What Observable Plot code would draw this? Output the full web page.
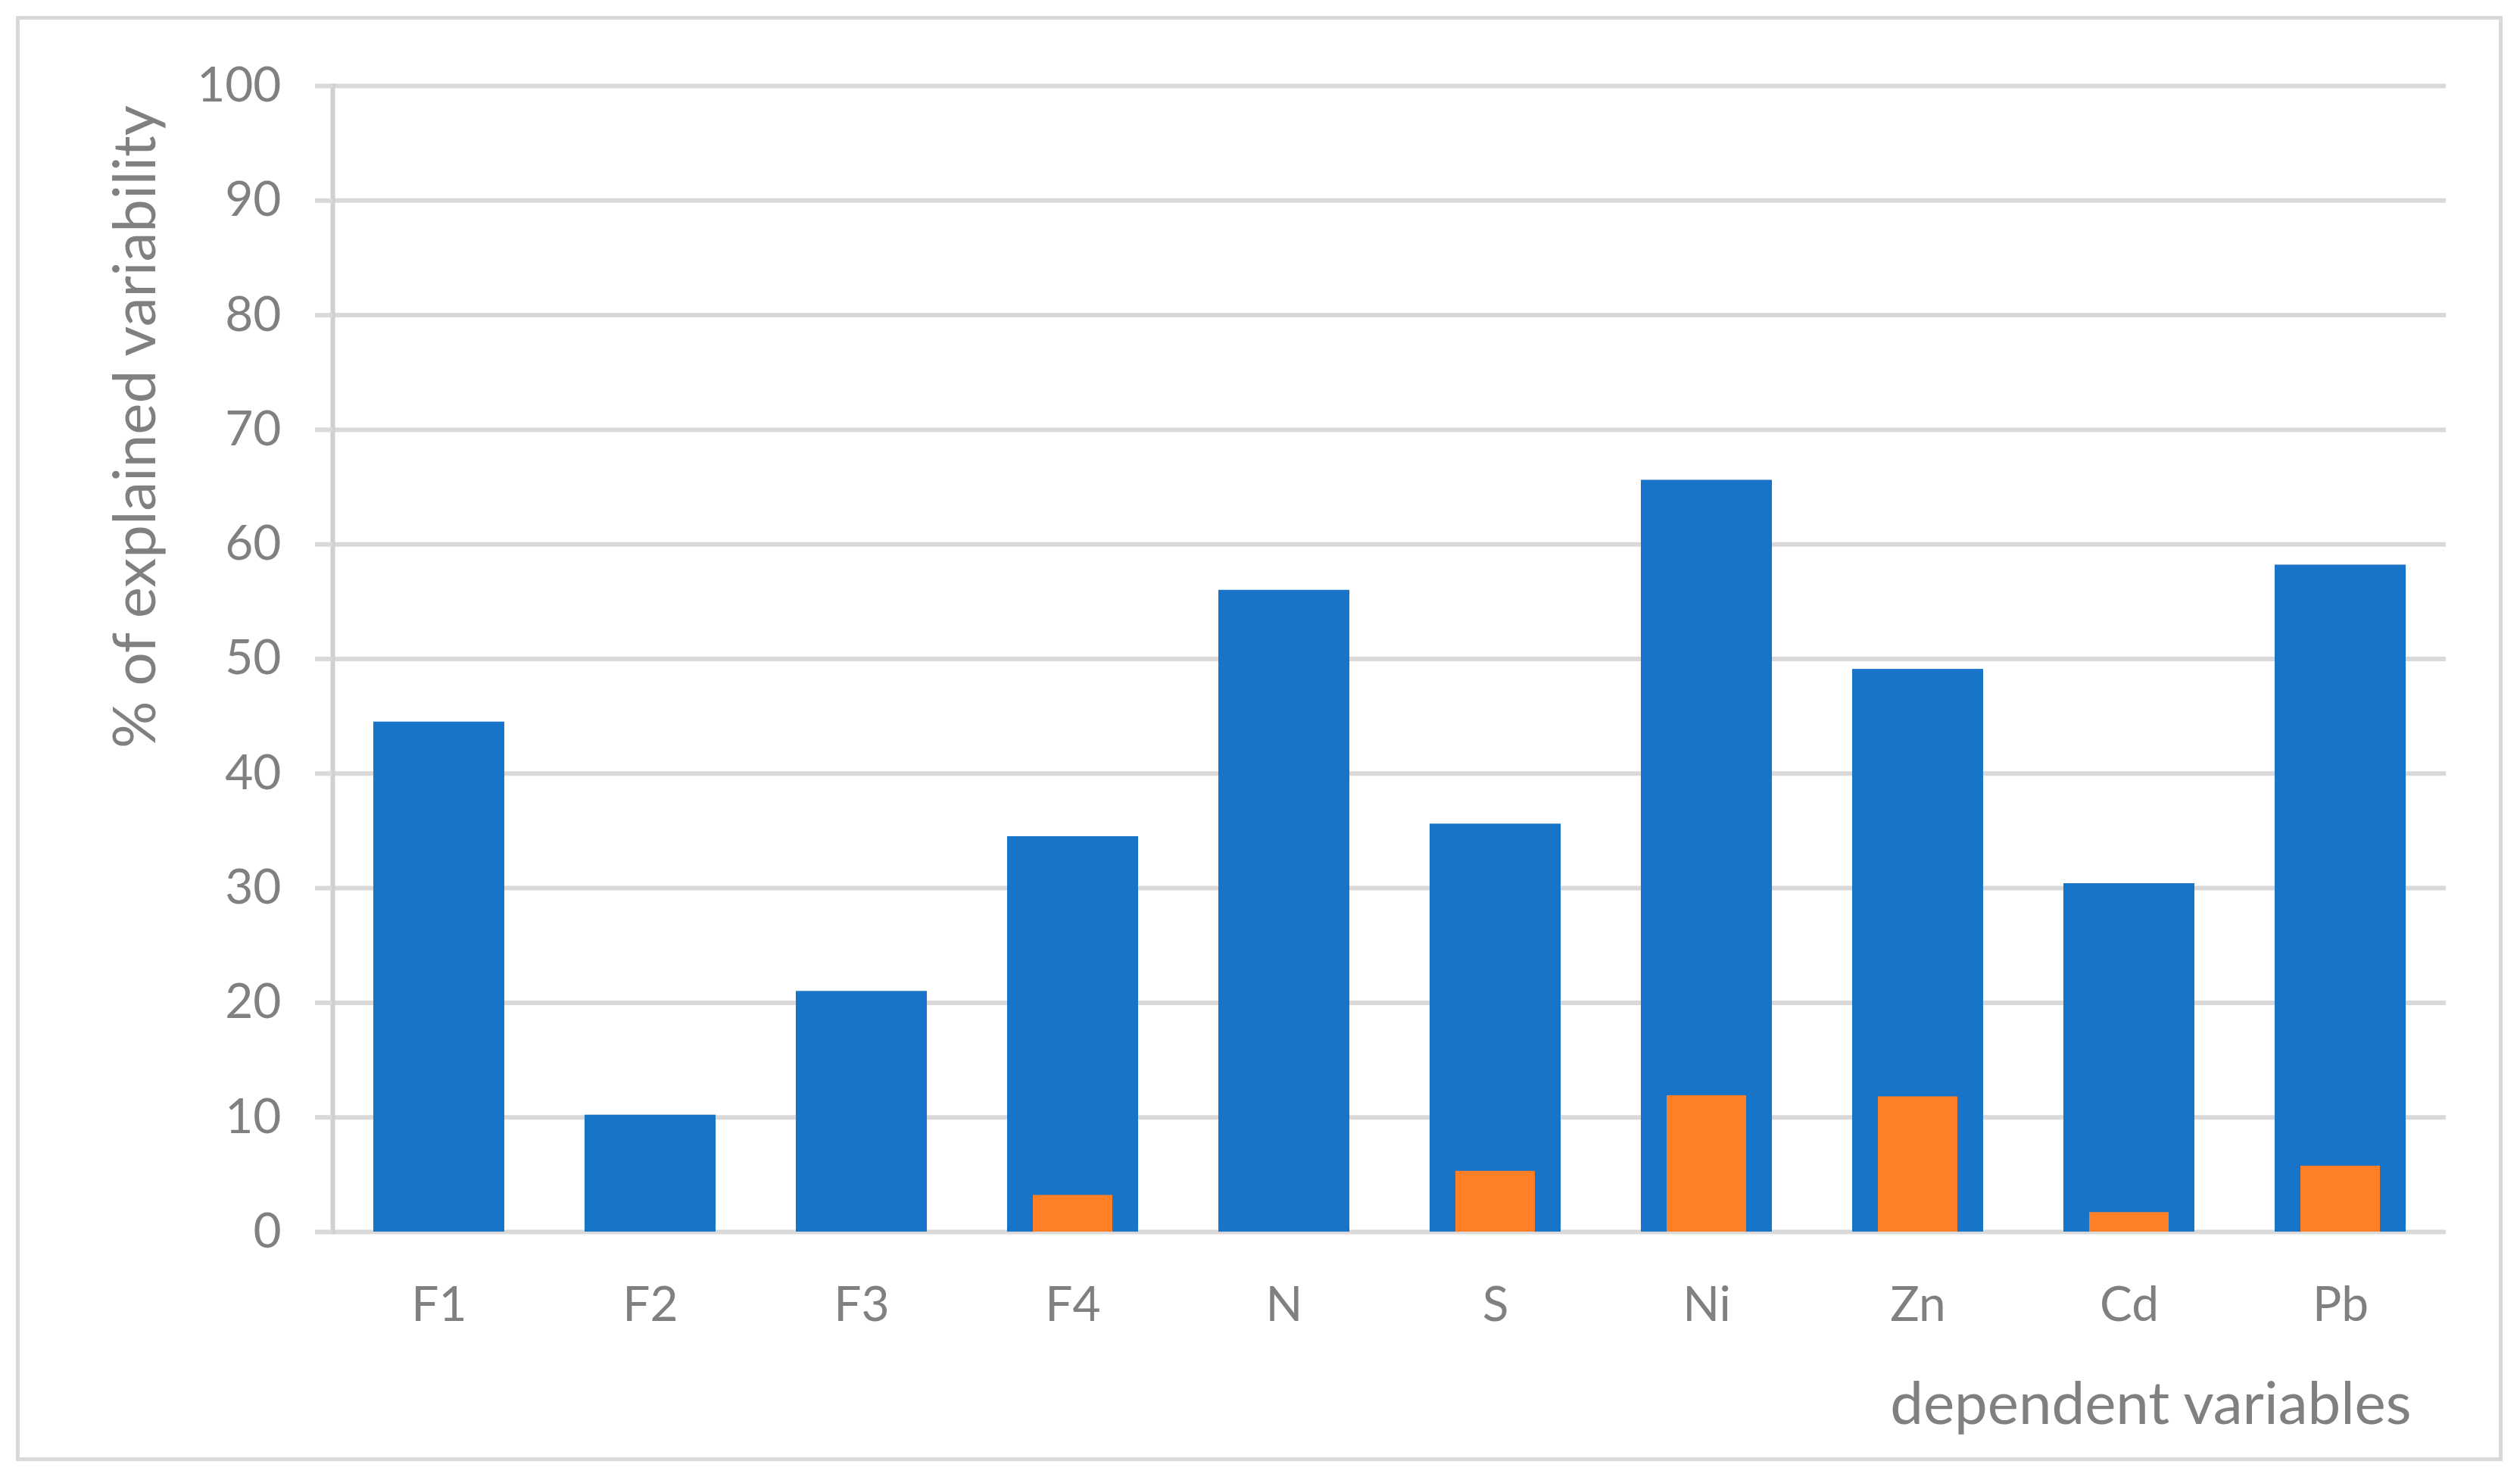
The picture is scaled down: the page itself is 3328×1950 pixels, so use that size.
<!DOCTYPE html>
<html><head><meta charset="utf-8">
<script src="https://cdn.jsdelivr.net/npm/d3@7"></script>
<script src="https://cdn.jsdelivr.net/npm/@observablehq/plot@0.6"></script>
<style>
html,body{margin:0;padding:0;background:#fff;}
#wrap{position:relative;width:3328px;height:1950px;}
#wrap svg{position:absolute;left:0;top:0;}
#frame{position:absolute;left:21px;top:21px;width:3274px;height:1898px;border:5px solid #d9d9d9;pointer-events:none;}
</style></head><body><div id="wrap"><div id="frame"></div></div>
<script>
const categories = ["F1","F2","F3","F4","N","S","Ni","Zn","Cd","Pb"];
const totalExplained = [44.5,10.2,21.0,34.5,56.0,35.6,65.6,49.1,30.4,58.2];
const uniqueExplained = [0,0,0,3.2,0,5.3,11.9,11.8,1.7,5.75];
const yTicks = [0,10,20,30,40,50,60,70,80,90,100];
const xTitle = "dependent variables";
const yTitle = "% of explained variability";

const data = categories.map((c,i)=>({cat:c,total:totalExplained[i],unique:uniqueExplained[i]}));
const grey = "#808080";

const chart = Plot.plot({
  width: 3328, height: 1950,
  marginLeft: 439, marginRight: 98, marginTop: 113, marginBottom: 324,
  style: {fontFamily: "Lato, sans-serif", background: "transparent", overflow: "visible"},
  x: {domain: categories, paddingInner: 0.38, paddingOuter: 0.19, align: 0.5},
  y: {domain: [0,100]},
  marks: [
    Plot.gridY(yTicks, {stroke: "#d9d9d9", strokeOpacity: 1, strokeWidth: 6}),
    Plot.barY(data, {x: "cat", y: "total", fill: "#1874c9"}),
    Plot.barY(data, {x: "cat", y: "unique", fill: "#ff7f27", insetLeft: 34, insetRight: 34}),
    Plot.frame({anchor: "left", stroke: "#d0d0d0", strokeWidth: 6}),
    Plot.axisY(yTicks, {tickSize: 23, tickPadding: 45, stroke: "#d9d9d9", strokeWidth: 6, fill: grey, fontSize: 64, label: null}),
    Plot.axisX({tickSize: 0, tickPadding: 72, fill: grey, fontSize: 64, label: null}),
    Plot.text([xTitle], {frameAnchor: "bottom-right", dx: -46, dy: 229, textAnchor: "end", lineAnchor: "middle", fontSize: 78, fill: grey}),
    Plot.text([yTitle], {frameAnchor: "top-left", rotate: -90, dx: -259, dy: 450, textAnchor: "middle", lineAnchor: "middle", fontSize: 78, fill: grey})
  ]
});
document.getElementById("wrap").appendChild(chart);
</script></body></html>
